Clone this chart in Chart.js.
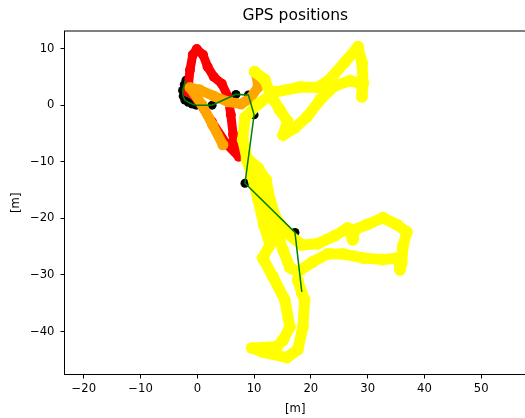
<!DOCTYPE html>
<html>
<head>
<meta charset="utf-8">
<script src="https://cdn.jsdelivr.net/npm/chart.js@4.4.1/dist/chart.umd.min.js"></script>
<style>
  html, body { margin: 0; padding: 0; background: #fff; overflow: hidden; }
  #wrap { width: 540px; height: 418px; }
</style>
</head>
<body>
<div id="wrap"><canvas id="gpsChart"></canvas></div>
<script>
// tick positions (metres)
const xTicks = [-20, -10, 0, 10, 20, 30, 40, 50];
const yTicks = [-40, -30, -20, -10, 0, 10];

// reference track (black markers + green line)
const refX = [-2.0, -2.3, -2.6, -2.5, -2.2, -1.6, -0.9, -0.2, 2.6, 6.8, 9.0, 10.0, 8.4, 17.2, 18.4];
const refY = [4.4, 3.6, 2.6, 1.6, 0.9, 0.5, 0.2, 0.0, 0.0, 1.9, 1.8, -1.7, -13.8, -22.5, -33.0];

// red track
const redX = [-1.7, -1.3, -0.8, -0.1, 1.0, 1.8, 2.9, 4.3, 5.4, 5.9, 6.3, 6.6, 7.3, 5.0, 2.6, 0.1, -1.3];
const redY = [2.3, 6.2, 8.9, 9.9, 8.9, 6.8, 5.0, 3.8, 1.5, -1.7, -5.2, -7.9, -9.1, -6.7, -3.0, 0.9, 2.3];

// orange track
const orangeX = [4.5, 2.7, 0.8, -1.3, 0.4, 2.9, 5.4, 7.7, 9.4, 10.7, 10.5];
const orangeY = [-7.0, -3.5, 0.1, 3.1, 2.7, 1.6, 0.6, 0.2, 1.3, 3.2, 5.0];

// yellow track
const yellowX = [10.1, 11.9, 12.9, 14.5, 15.9, 15.1, 17.2, 19.3, 21.6, 24.2, 26.9, 29.0, 29.0, 29.2, 29.0, 28.3,
  26.0, 23.3, 21.2, 18.1, 13.7, 10.7, 8.4, 8.0, 8.7, 10.7, 12.1, 12.8, 13.8, 15.9, 18.4, 21.2, 24.2, 26.5,
  27.4, 27.7, 29.9, 32.7, 35.1, 36.9, 36.2, 36.0, 35.7, 35.5, 32.7, 29.2, 25.6, 23.0, 20.3, 17.7, 16.3,
  15.1, 13.7, 12.4, 11.0, 9.2, 8.7, 9.6, 10.7, 11.7, 12.8, 11.5, 13.3, 15.4, 16.3, 15.1, 14.0, 9.6, 11.4,
  15.8, 17.7, 18.6, 18.9, 18.4, 17.7];
const yellowY = [5.9, 4.5, 1.8, -0.8, -2.9, -5.3, -4.0, -2.1, 0.9, 3.4, 4.3, 3.8, 1.5, 3.9, 7.5, 10.3,
  7.6, 4.5, 3.1, 3.2, 2.3, 0.2, -2.2, -6.1, -9.3, -11.1, -13.2, -16.7, -19.9, -22.7, -24.7, -24.5, -23.1, -21.7,
  -23.8, -22.0, -21.1, -19.9, -21.1, -22.4, -25.0, -27.9, -29.1, -27.0, -27.3, -27.0, -26.3, -26.3, -27.7, -29.5, -28.7,
  -25.6, -21.7, -17.6, -14.1, -10.5, -9.7, -12.3, -16.7, -21.1, -24.7, -27.0, -30.3, -34.4, -39.2, -41.5, -42.7, -42.9, -43.6,
  -44.6, -43.2, -39.2, -34.4, -33.2, -30.9];

const toPoints = (xs, ys) => xs.map((x, i) => ({ x: x, y: ys[i] }));

function track(label, xs, ys, color, width, order) {
    return {
        label: label,
        data: toPoints(xs, ys),
        showLine: true,
        borderColor: color,
        backgroundColor: color,
        borderWidth: width,
        borderCapStyle: 'round',
        borderJoinStyle: 'round',
        pointRadius: width / 2 + 0.5,
        pointBorderWidth: 0,
        pointHoverRadius: 0,
        order: order
    };
}

// matplotlib style box round the axes
const frame = {
    id: 'frame',
    afterDatasetsDraw(chart) {
        const { ctx, chartArea: a } = chart;
        ctx.save();
        ctx.strokeStyle = '#000';
        ctx.lineWidth = 1;
        ctx.strokeRect(a.left, a.top, a.right - a.left, a.bottom - a.top);
        ctx.restore();
    }
};

const tickFont = { family: 'DejaVu Sans', size: 11.6 };
const minus = v => String(v).replace('-', '\u2212');

new Chart(document.getElementById('gpsChart'), {
    type: 'scatter',
    data: {
        datasets: [
            {
                label: 'reference',
                data: toPoints(refX, refY),
                showLine: true,
                borderColor: '#008000',
                borderWidth: 1.5,
                pointRadius: 0,
                order: 1
            },
            track('yellow', yellowX, yellowY, '#ffff00', 11, 2),
            track('orange', orangeX, orangeY, '#ffa500', 10, 3),
            track('red', redX, redY, '#ff0000', 9, 4),
            {
                label: 'markers',
                data: toPoints(refX, refY),
                showLine: false,
                backgroundColor: '#000',
                borderWidth: 0,
                pointRadius: 4.5,
                order: 5
            }
        ]
    },
    options: {
        responsive: true,
        maintainAspectRatio: false,
        animation: false,
        layout: { padding: { left: 0, right: 14, top: 0, bottom: 0 } },
        plugins: {
            legend: { display: false },
            tooltip: { enabled: false },
            title: {
                display: true,
                text: 'GPS positions',
                fullSize: false,
                color: '#000',
                font: { family: 'DejaVu Sans', size: 15.5, weight: 'normal' },
                padding: { top: 7, bottom: 5.4 }
            }
        },
        scales: {
            x: {
                type: 'linear',
                min: -23.4,
                max: 57.9,
                afterFit: s => { s.height = 43.5; },
                afterBuildTicks: s => { s.ticks = xTicks.map(v => ({ value: v })); },
                grid: { drawOnChartArea: false, drawTicks: true, tickLength: 4, color: '#000' },
                border: { display: false },
                ticks: { color: '#000', font: tickFont, padding: 4, maxRotation: 0, callback: minus },
                title: { display: true, text: '[m]', color: '#000', font: tickFont, padding: { top: 0, bottom: 2.5 } }
            },
            y: {
                type: 'linear',
                min: -47.6,
                max: 13.1,
                afterFit: s => { s.width = 64.5; },
                afterBuildTicks: s => { s.ticks = yTicks.map(v => ({ value: v })); },
                grid: { drawOnChartArea: false, drawTicks: true, tickLength: 4, color: '#000' },
                border: { display: false },
                ticks: { color: '#000', font: tickFont, padding: 6, callback: minus },
                title: { display: true, text: '[m]', color: '#000', font: tickFont, padding: { top: 9, bottom: 0 } }
            }
        }
    },
    plugins: [frame]
});
</script>
</body>
</html>
